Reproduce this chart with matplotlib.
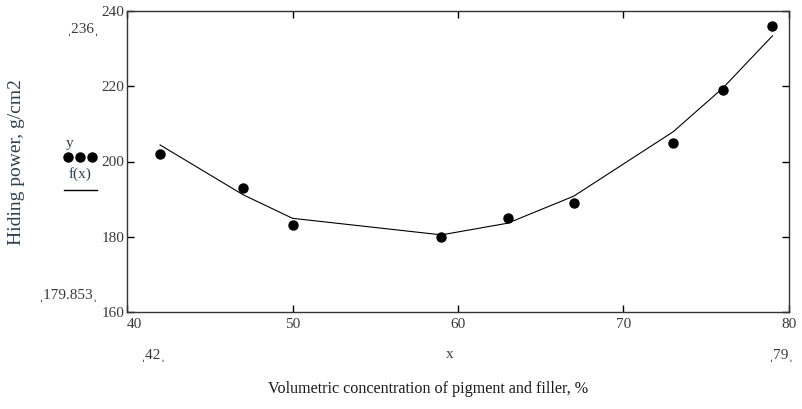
import matplotlib.pyplot as plt

# data
x = [42, 47, 50, 59, 63, 67, 73, 76, 79]
y = [202, 193, 183, 179.853, 185, 189, 205, 219, 236]
fx = [204.4, 191.2, 184.9, 180.5, 183.6, 190.8, 207.9, 219.5, 233.4]

xticks = [40, 50, 60, 70, 80]
yticks = [160, 180, 200, 220, 240]

plt.rcParams['font.family'] = ['Liberation Serif', 'DejaVu Sans']
txt = '#3a3a3a'
lab = '#2f4050'

fig = plt.figure(figsize=(8.03, 4.09), dpi=100)
ax = fig.add_axes([127 / 803, 1 - 312 / 409, 662 / 803, 301 / 409])

ax.plot(x, fx, color='black', lw=0.8)
ax.plot(x, y, 'o', color='black', ms=6.5, ls='none')

ax.set_xlim(40, 80)
ax.set_ylim(160, 240)
ax.set_xticks(xticks)
ax.set_yticks(yticks)
ax.tick_params(direction='in', top=True, right=True, length=5, width=1,
               labelsize=11, labelcolor=txt)
ax.tick_params(axis='x', pad=4)
ax.tick_params(axis='y', pad=2)
ax.get_xticklabels()[0].set_ha('left')
for s in ax.spines.values():
    s.set_linewidth(1)
    s.set_color('#333333')

# mathcad style range markers
fs = 11
fig.text(154 / 803, 1 - 355 / 409, '\u02cc42\u02cc', fontsize=fs, color=txt, ha='center', va='center')
fig.text(450 / 803, 1 - 355 / 409, 'x', fontsize=fs, color=txt, ha='center', va='center')
fig.text(782 / 803, 1 - 355 / 409, '\u02cc79\u02cc', fontsize=fs, color=txt, ha='center', va='center')
fig.text(83 / 803, 1 - 30 / 409, '\u02cc236\u02cc', fontsize=fs, color=txt, ha='center', va='center')
fig.text(69 / 803, 1 - 296 / 409, '\u02cc179.853\u02cc', fontsize=fs, color=txt, ha='center', va='center')

# legend on the left
fig.text(70 / 803, 1 - 144 / 409, 'y', fontsize=fs, color=lab, ha='center', va='center')
for px in (68, 80, 92):
    fig.lines.append(plt.Line2D([px / 803], [1 - 157 / 409], marker='o', color='black',
                                ms=6.5, transform=fig.transFigure))
fig.text(80 / 803, 1 - 174 / 409, 'f(x)', fontsize=fs, color=lab, ha='center', va='center')
fig.lines.append(plt.Line2D([64 / 803, 97 / 803], [1 - 190 / 409, 1 - 190 / 409],
                            color='black', lw=1, transform=fig.transFigure))

fig.text(17 / 803, 1 - 162 / 409, 'Hiding power, g/cm2', fontsize=14, color=lab,
         rotation=90, ha='center', va='center')
fig.text(428 / 803, 1 - 389 / 409, 'Volumetric concentration of pigment and filler, %',
         fontsize=11.6, color='#1a1a1a', ha='center', va='center')

fig.savefig('out.png', dpi=100)
